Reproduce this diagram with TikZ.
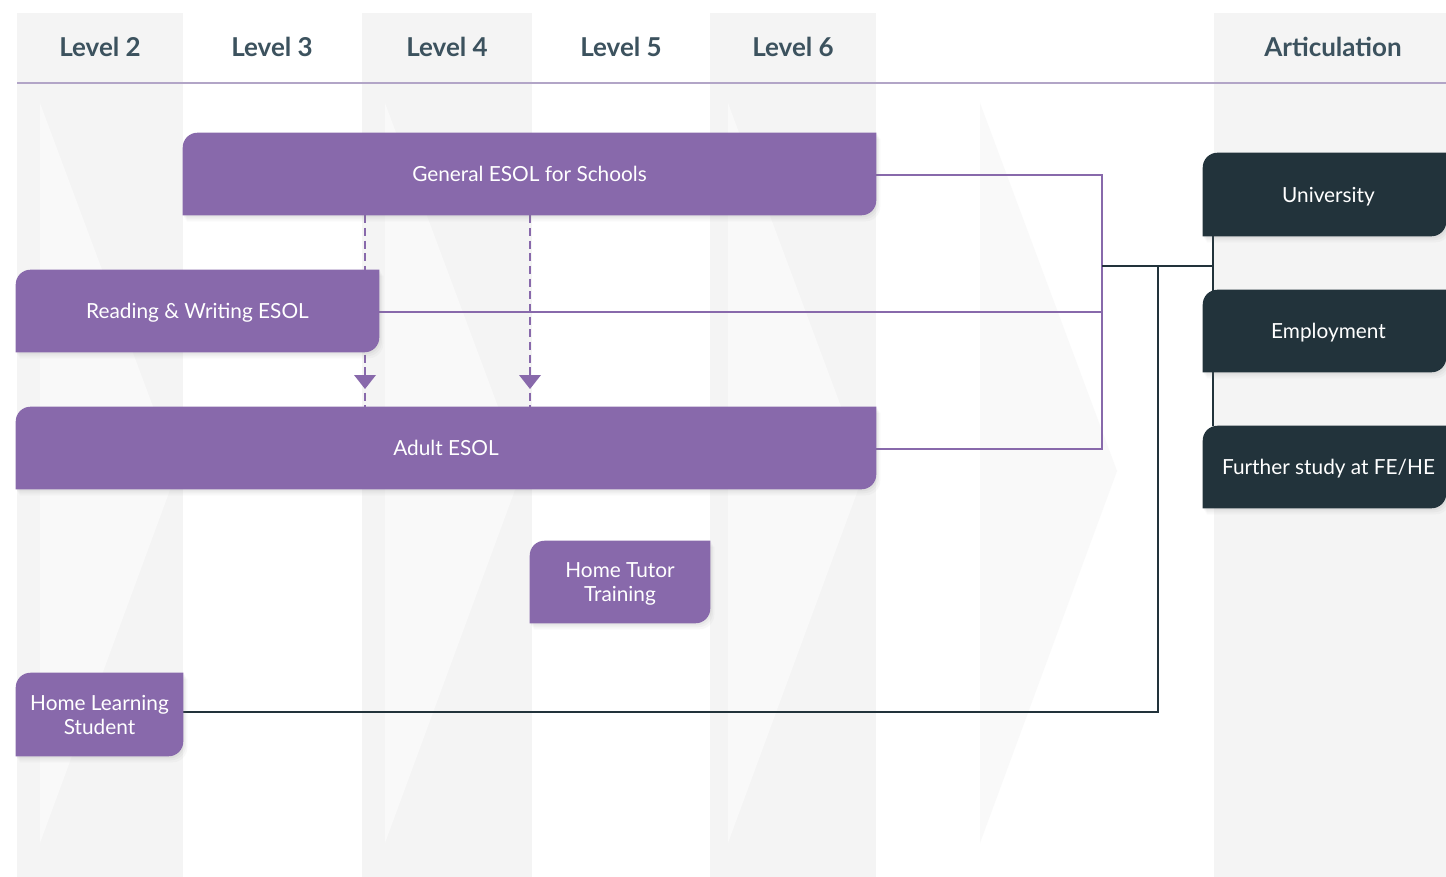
\documentclass[tikz,border=0pt]{standalone}
\usepackage{fontspec}
\setmainfont{Lato}
\usetikzlibrary{shadows}
\definecolor{pur}{HTML}{8869AB}
\definecolor{dk}{HTML}{22333B}
\definecolor{hdr}{HTML}{3C525E}
\definecolor{colg}{HTML}{F4F4F4}
\definecolor{chev}{HTML}{F9F9F9}
\definecolor{hline}{HTML}{B2A5C7}
\pgfdeclarelayer{bg}
\pgfdeclarelayer{lines}
\pgfdeclarelayer{boxes}
\pgfsetlayers{bg,lines,boxes,main}
\tikzset{
  boxtext/.style={inner sep=0pt, text=white, align=center, text depth=0pt, font=\fontsize{15.6}{18}\selectfont},
  hdrtext/.style={text=hdr, font=\fontsize{19.5}{22}\selectfont\bfseries},
  pline/.style={draw=pur, line width=1.5pt},
  dline/.style={draw=dk, line width=1.8pt},
  dashline/.style={draw=pur, line width=2pt, dash pattern=on 6pt off 3.5pt},
  boxshadow/.style={
    drop shadow={opacity=0.05, shadow xshift=3pt, shadow yshift=-4.5pt},
    drop shadow={opacity=0.06, shadow xshift=2pt, shadow yshift=-3pt},
    drop shadow={opacity=0.08, shadow xshift=1pt, shadow yshift=-1.5pt}}
}
\newcommand\halfround[2]{%
  \begin{pgfonlayer}{boxes}
  \fill[#2, boxshadow] (#1.south west) -- ([yshift=-11pt]#1.north west) arc[start angle=180, end angle=90, radius=11pt]
    -- (#1.north east) -- ([yshift=11pt]#1.south east) arc[start angle=0, end angle=-90, radius=11pt] -- cycle;
  \end{pgfonlayer}}
\begin{document}
\begin{tikzpicture}[x=0.75pt, y=-0.75pt]
\useasboundingbox (0,0) rectangle (1446,877);
% background columns and chevrons
\begin{pgfonlayer}{bg}
  \fill[white] (0,0) rectangle (1446,877);
  \fill[colg] (17,13) rectangle (183,877);
  \fill[colg] (362,13) rectangle (532,877);
  \fill[colg] (710,13) rectangle (876,877);
  \fill[colg] (1214,13) rectangle (1446,877);
  \fill[chev] (40,103) -- (177,471) -- (40,843) -- cycle;
  \fill[chev] (385,103) -- (522,471) -- (385,843) -- cycle;
  \fill[chev] (728,103) -- (865,471) -- (728,843) -- cycle;
  \fill[chev] (980,103) -- (1117,471) -- (980,843) -- cycle;
  \draw[hline, line width=1.1pt] (17,83) -- (1446,83);
\end{pgfonlayer}
% headers
\node[hdrtext] (h2) at (100,47) {Level 2};
\node[hdrtext] (h3) at (272,47) {Level 3};
\node[hdrtext] (h4) at (447,47) {Level 4};
\node[hdrtext] (h5) at (621,47) {Level 5};
\node[hdrtext] (h6) at (793,47) {Level 6};
\node[hdrtext] (ha) at (1333,47) {Articulation};
% boxes
\node[boxtext, minimum width=519.75pt, minimum height=61.5pt] (ge) at (529.5,174) {General ESOL for Schools};
\node[boxtext, minimum width=272.25pt, minimum height=61.5pt] (rw) at (197.5,311) {Reading \& Writing ESOL};
\node[boxtext, minimum width=645pt, minimum height=61.5pt] (ae) at (446,448) {Adult ESOL};
\node[boxtext, minimum width=135pt, minimum height=61.5pt] (ht) at (620,582) {Home Tutor\\Training};
\node[boxtext, minimum width=125.25pt, minimum height=62.25pt] (hl) at (99.5,714.5) {Home Learning\\Student};
\node[boxtext, minimum width=182.25pt, minimum height=62.25pt] (uni) at (1324.5,194.5) {\hspace*{6pt}University};
\node[boxtext, minimum width=182.25pt, minimum height=61.5pt] (emp) at (1324.5,331) {\hspace*{6pt}Employment};
\node[boxtext, minimum width=182.25pt, minimum height=61.5pt] (fs) at (1324.5,467) {\hspace*{6pt}Further study at FE/HE};
\halfround{ge}{pur}
\halfround{rw}{pur}
\halfround{ae}{pur}
\halfround{ht}{pur}
\halfround{hl}{pur}
\halfround{uni}{dk}
\halfround{emp}{dk}
\halfround{fs}{dk}
% connectors
\coordinate (pr) at (1102,312);
\coordinate (dj) at (1102,266);
\coordinate (dv) at (1213,266);
\coordinate (hv) at (1158,266);
\coordinate (d1) at (365,0);
\coordinate (d2) at (530,0);
\begin{pgfonlayer}{lines}
  \draw[pline] ([yshift=-0.75pt]ge.east) -| (pr) |- ([yshift=-0.75pt]ae.east);
  \draw[pline] ([yshift=-0.75pt]rw.east) -- (pr);
  \draw[dline] (dj) -- (dv);
  \draw[dline] (uni.south west -| dv) -- (fs.north west -| dv);
  \draw[dline] ([yshift=1.9pt]hl.east) -| (hv);
  \draw[dashline] (ge.south -| d1) -- (ae.north -| d1);
  \draw[dashline] (ge.south -| d2) -- (ae.north -| d2);
  \fill[pur] (354,375) -- (376,375) -- (365,389) -- cycle;
  \fill[pur] (519,375) -- (541,375) -- (530,389) -- cycle;
\end{pgfonlayer}
\end{tikzpicture}
\end{document}
